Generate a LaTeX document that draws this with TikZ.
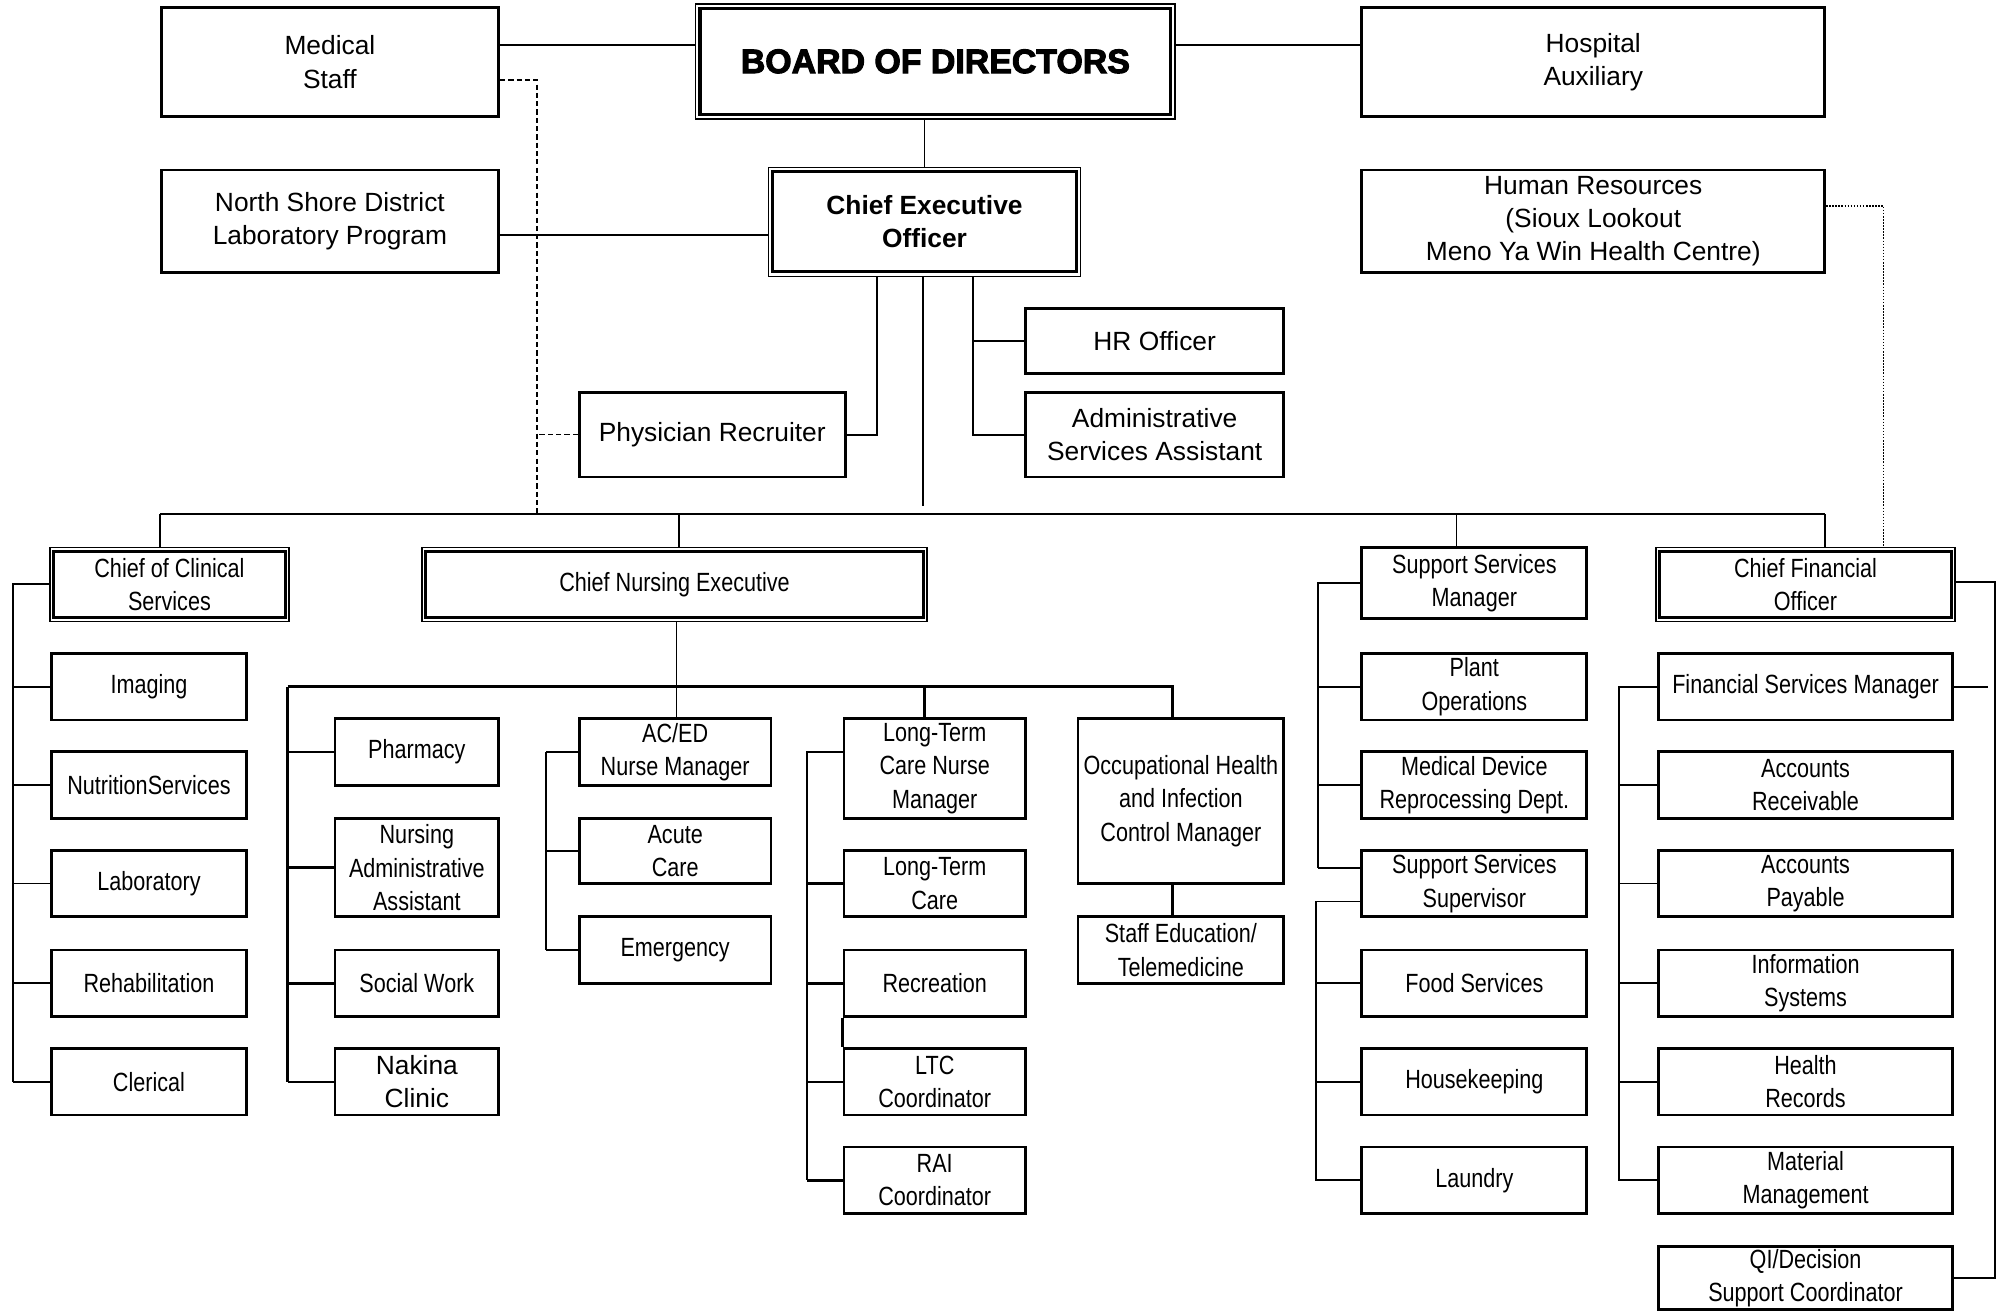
\documentclass[tikz,border=0pt]{standalone}
\usepackage{fontspec}
\setmainfont{Liberation Sans}
\newfontfamily\narrowf{Liberation Sans}[FakeStretch=0.82]
\newfontfamily\heavyf{Liberation Sans}[BoldFeatures={FakeBold=3}]
\usetikzlibrary{calc}
\newcommand\regf{\fontsize{20.6}{26}\selectfont}
\newcommand\narf{\narrowf\fontsize{20.6}{26}\selectfont}
\newcommand\dblin[2]{\draw[line width=2.4] ($(#1.north west)+(#2,#2)$) rectangle ($(#1.south east)+(-#2,-#2)$);}
\begin{document}
\begin{tikzpicture}[x=1pt,y=-1pt,
  bx/.style 2 args={draw, line width=2.2, inner sep=0pt, align=center, font=\regf, minimum width=#1, minimum height=#2},
  nb/.style 2 args={draw, line width=2.2, inner sep=0pt, align=center, font=\narf, minimum width=#1, minimum height=#2},
  dbx/.style 2 args={draw, line width=1.1, inner sep=0pt, align=center, font=\narf, minimum width=#1, minimum height=#2},
  ln/.style={line width=1.4},
  lnb/.style={line width=2},
  dsh/.style={line width=1.1, dash pattern=on 4pt off 2.5pt},
  dotl/.style={line width=1, dash pattern=on 1.2pt off 1.2pt}]
\fill[white] (0,0) rectangle (1568,1026);
% ---- top level ----
\node[bx={264}{85}] (med) at (258,48.5) {Medical\\Staff};
\node[dbx={375}{90}, font=\heavyf\bfseries\fontsize{26.5}{30}\selectfont] (bod) at (731.5,48) {BOARD OF DIRECTORS};
\dblin{bod}{4}
\node[bx={362}{85}] (hosp) at (1246,48.5) {Hospital\\Auxiliary};
\node[bx={264}{80}] (nsd) at (258,173) {North Shore District\\Laboratory Program};
\node[dbx={244}{85}, font=\regf\bfseries] (ceo) at (723,173.5) {Chief Executive\\Officer};
\dblin{ceo}{4}
\node[bx={362}{80}] (hr) at (1246,173) {Human Resources\\(Sioux Lookout\\Meno Ya Win Health Centre)};
\node[bx={208}{66}] (phys) at (557,340) {Physician Recruiter};
\node[bx={202}{51}] (hro) at (903,266.5) {HR Officer};
\node[bx={202}{66}] (asa) at (903,340) {Administrative\\Services Assistant};
% ---- level 3 ----
\node[dbx={187}{58}] (ccs) at (132.5,457) {Chief of Clinical\\Services};
\dblin{ccs}{3.5}
\node[dbx={395}{58}] (cne) at (527.5,457) {Chief Nursing Executive};
\dblin{cne}{3.5}
\node[nb={176}{56}] (ssm) at (1153,456) {Support Services\\Manager};
\node[dbx={234}{58}] (cfo) at (1412,457) {Chief Financial\\Officer};
\dblin{cfo}{3.5}
% ---- clinical ----
\node[nb={153}{52}] (img) at (116.5,537) {Imaging};
\node[nb={153}{52}] (nut) at (116.5,614) {NutritionServices};
\node[nb={153}{52}] (lab) at (116.5,691) {Laboratory};
\node[nb={153}{52}] (reh) at (116.5,769) {Rehabilitation};
\node[nb={153}{52}] (cler) at (116.5,846) {Clerical};
% ---- nursing ----
\node[nb={128}{52}] (pha) at (326,588) {Pharmacy};
\node[nb={128}{77}] (naa) at (326,678.5) {Nursing\\Administrative\\Assistant};
\node[nb={128}{52}] (sw) at (326,769) {Social Work};
\node[bx={128}{52}] (nak) at (326,846) {Nakina\\Clinic};
\node[nb={150}{52}] (aced) at (528,588) {AC/ED\\Nurse Manager};
\node[nb={150}{51}] (acu) at (528,665.5) {Acute\\Care};
\node[nb={150}{52}] (eme) at (528,743) {Emergency};
\node[nb={142}{78}] (ltcnm) at (731,601) {Long-Term\\Care Nurse\\Manager};
\node[nb={142}{52}] (ltc) at (731,691) {Long-Term\\Care};
\node[nb={142}{52}] (rec) at (731,769) {Recreation};
\node[nb={142}{52}] (ltcc) at (731,846) {LTC\\Coordinator};
\node[nb={142}{52}] (rai) at (731,923) {RAI\\Coordinator};
\node[nb={161}{129}] (ohic) at (923.5,626.5) {Occupational Health\\and Infection\\Control Manager};
\node[nb={161}{52}] (sted) at (923.5,743) {Staff Education/\\Telemedicine};
% ---- support ----
\node[nb={176}{52}] (plant) at (1153,537) {Plant\\Operations};
\node[nb={176}{52}] (mdr) at (1153,614) {Medical Device\\Reprocessing Dept.};
\node[nb={176}{52}] (sss) at (1153,691) {Support Services\\Supervisor};
\node[nb={176}{52}] (food) at (1153,769) {Food Services};
\node[nb={176}{52}] (hk) at (1153,846) {Housekeeping};
\node[nb={176}{52}] (lau) at (1153,923) {Laundry};
% ---- finance ----
\node[nb={230}{52}] (fsm) at (1412,537) {Financial Services Manager};
\node[nb={230}{52}] (ar) at (1412,614) {Accounts\\Receivable};
\node[nb={230}{52}] (ap) at (1412,691) {Accounts\\Payable};
\node[nb={230}{52}] (is) at (1412,769) {Information\\Systems};
\node[nb={230}{52}] (hrec) at (1412,846) {Health\\Records};
\node[nb={230}{52}] (mm) at (1412,923) {Material\\Management};
\node[nb={230}{49}] (qi) at (1412,999.5) {QI/Decision\\Support Coordinator};
% ---- connectors: top ----
\coordinate (m1) at ([yshift=13.5pt]med.east);
\coordinate (m2) at ([yshift=-14pt]med.east);
\coordinate (b0) at ([yshift=13pt]bod.east);
\coordinate (n1) at ([yshift=-10.5pt]nsd.east);
\draw[ln] (m1) -- (m1 -| bod.west);
\draw[ln] (b0) -- (b0 -| hosp.west);
\draw[ln] (ceo.north) -- (ceo.north |- bod.south);
\draw[ln] (n1) -- (n1 -| ceo.west);
\coordinate (dx) at (420,402);
\draw[dsh] (m2) -| (dx);
\draw[dsh] (phys.west) -- (phys.west -| dx);
\coordinate (cA) at (686,0);
\coordinate (cC) at (761,0);
\coordinate (cmid) at (722,396);
\draw[ln] (ceo.south -| cA) |- (phys.east);
\draw[ln] (ceo.south -| cC) |- (asa.west);
\draw[ln] (hro.west -| cC) -- (hro.west);
\draw[ln] (ceo.south -| cmid) -- (cmid);
\coordinate (hx) at (1473,0);
\coordinate (h1) at ([yshift=12pt]hr.east);
\draw[dotl] (h1) -| (cfo.north -| hx);
% ---- main bus ----
\coordinate (bA) at (125,402);
\coordinate (bB) at (531,402);
\coordinate (bC) at (1139,402);
\coordinate (bD) at (1427,402);
\draw[ln] (bA) -- (bD);
\draw[ln] (bA) -- (bA |- ccs.north);
\draw[ln] (bB) -- (bB |- cne.north);
\draw[ln] (bC) -- (bC |- ssm.north);
\draw[ln] (bD) -- (bD |- cfo.north);
% ---- clinical ----
\coordinate (lx) at (10,0);
\draw[ln] (ccs.west) -- (ccs.west -| lx) -- (cler.west -| lx);
\foreach \n in {img,nut,lab,reh,cler} \draw[ln] (\n.west -| lx) -- (\n.west);
% ---- nursing ----
\coordinate (nA) at (225,537);
\coordinate (nB) at (529,537);
\coordinate (nC) at (723,537);
\coordinate (nD) at (917,537);
\draw[ln] (cne.south -| nB) -- (aced.north -| nB);
\draw[lnb] (nA) -- (nD) -- (nD |- ohic.north);
\draw[lnb] (nC) -- (nC |- ltcnm.north);
\draw[lnb] (nA) -- (nA |- nak.west);
\foreach \n in {pha,naa,sw,nak} \draw[lnb] (\n.west -| nA) -- (\n.west);
\coordinate (ax) at (427,0);
\draw[lnb] (aced.west -| ax) -- (eme.west -| ax);
\foreach \n in {aced,acu,eme} \draw[lnb] (\n.west -| ax) -- (\n.west);
\coordinate (tx) at (631,0);
\coordinate (t1) at ([yshift=13pt]ltcnm.west);
\draw[lnb] (t1) -- (t1 -| tx) -- (rai.west -| tx);
\foreach \n in {ltc,rec,ltcc,rai} \draw[lnb] (\n.west -| tx) -- (\n.west);
\draw[lnb] (rec.south west) -- (ltcc.north west);
\draw[lnb] (ohic.south -| nD) -- (sted.north -| nD);
% ---- support ----
\coordinate (sx) at (1031,0);
\coordinate (sy) at (1029,0);
\coordinate (s1) at ([yshift=12pt]sss.west);
\coordinate (s2) at ([yshift=-14pt]sss.west);
\draw[ln] (ssm.west) -- (ssm.west -| sx) -- (s1 -| sx);
\draw[ln] (s1 -| sx) -- (s1);
\foreach \n in {plant,mdr} \draw[ln] (\n.west -| sx) -- (\n.west);
\draw[ln] (s2) -- (s2 -| sy) -- (lau.west -| sy) -- (lau.west);
\foreach \n in {food,hk} \draw[ln] (\n.west -| sy) -- (\n.west);
% ---- finance ----
\coordinate (fx) at (1266,0);
\draw[ln] (fsm.west) -- (fsm.west -| fx) -- (mm.west -| fx) -- (mm.west);
\foreach \n in {ar,ap,is,hrec} \draw[ln] (\n.west -| fx) -- (\n.west);
\coordinate (rx) at (1560,0);
\coordinate (rx2) at (1555,0);
\coordinate (f1) at ([yshift=2pt]cfo.east);
\draw[ln] (f1) -- (f1 -| rx) -- (qi.east -| rx) -- (qi.east);
\draw[ln] (fsm.east) -- (fsm.east -| rx2);
\end{tikzpicture}
\end{document}
